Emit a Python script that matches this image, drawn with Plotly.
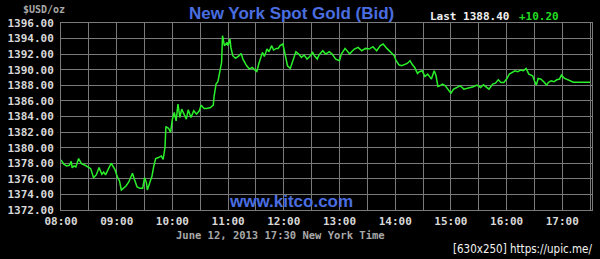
import plotly.graph_objects as go

times = [
    "08:00", "08:03", "08:06", "08:09", "08:11", "08:12", "08:14", "08:16", "08:19", "08:22",
    "08:26", "08:32", "08:35", "08:38", "08:41", "08:44", "08:46", "08:48", "08:54", "08:58",
    "09:01", "09:03", "09:05", "09:08", "09:10", "09:13", "09:17", "09:19", "09:22", "09:25",
    "09:28", "09:30", "09:32", "09:33", "09:36", "09:38", "09:40", "09:42", "09:45", "09:48",
    "09:50", "09:52", "09:53", "09:56", "09:58", "10:00", "10:02", "10:04", "10:06", "10:08",
    "10:10", "10:13", "10:15", "10:17", "10:20", "10:23", "10:26", "10:29", "10:31", "10:34",
    "10:37", "10:41", "10:44", "10:45", "10:47", "10:49", "10:51", "10:53", "10:54", "10:56",
    "10:59", "11:00", "11:02", "11:03", "11:05", "11:08", "11:12", "11:14", "11:16", "11:20",
    "11:23", "11:26", "11:29", "11:31", "11:33", "11:35", "11:37", "11:39", "11:42", "11:44",
    "11:47", "11:49", "11:52", "11:54", "11:56", "11:59", "12:01", "12:04", "12:07", "12:10",
    "12:13", "12:16", "12:19", "12:22", "12:25", "12:28", "12:31", "12:33", "12:36", "12:38",
    "12:42", "12:45", "12:49", "12:52", "12:56", "13:00", "13:02", "13:06", "13:09", "13:11",
    "13:13", "13:16", "13:20", "13:24", "13:28", "13:32", "13:36", "13:40", "13:44", "13:47",
    "13:51", "13:55", "13:59", "14:01", "14:04", "14:07", "14:10", "14:13", "14:16", "14:18",
    "14:21", "14:24", "14:26", "14:29", "14:32", "14:35", "14:39", "14:42", "14:44", "14:46",
    "14:48", "14:51", "14:54", "14:57", "15:00", "15:03", "15:06", "15:10", "15:14", "15:17",
    "15:20", "15:24", "15:28", "15:32", "15:35", "15:39", "15:41", "15:45", "15:48", "15:51",
    "15:54", "15:57", "16:00", "16:03", "16:06", "16:09", "16:12", "16:15", "16:18", "16:21",
    "16:24", "16:28", "16:30", "16:32", "16:34", "16:37", "16:40", "16:43", "16:45", "16:48",
    "16:51", "16:54", "16:57", "16:59", "17:02", "17:05", "17:08", "17:12", "17:30",
]

prices = [
    1378.43, 1377.87, 1377.65, 1377.74, 1378.25, 1377.44, 1377.65, 1377.53, 1378.60, 1377.95,
    1377.74, 1377.31, 1376.15, 1376.50, 1377.44, 1376.58, 1376.88, 1376.50, 1378.00, 1377.23,
    1376.15, 1375.73, 1374.57, 1374.87, 1375.08, 1375.60, 1376.71, 1375.94, 1374.95, 1374.78,
    1374.78, 1376.15, 1375.51, 1374.57, 1375.73, 1376.37, 1377.65, 1378.60, 1378.73, 1378.94,
    1378.51, 1380.01, 1382.71, 1382.46, 1381.94, 1383.66, 1384.51, 1383.44, 1385.58, 1383.87,
    1384.94, 1384.08, 1383.66, 1384.86, 1383.87, 1384.73, 1384.30, 1384.73, 1385.46, 1385.03,
    1385.03, 1385.16, 1385.46, 1386.66, 1388.16, 1388.46, 1389.87, 1390.94, 1394.37, 1393.09,
    1393.51, 1393.09, 1393.94, 1392.87, 1391.80, 1391.46, 1391.80, 1392.10, 1391.37, 1390.51,
    1390.09, 1390.30, 1389.96, 1389.78, 1390.73, 1391.59, 1392.23, 1391.71, 1392.66, 1392.31,
    1393.09, 1392.53, 1392.74, 1392.74, 1393.09, 1393.30, 1392.01, 1390.51, 1390.17, 1391.37,
    1392.31, 1392.01, 1391.59, 1391.89, 1391.37, 1391.71, 1392.23, 1391.80, 1391.37, 1391.89,
    1392.44, 1392.01, 1392.31, 1392.01, 1391.37, 1391.16, 1392.01, 1392.74, 1392.31, 1392.01,
    1392.31, 1392.66, 1392.87, 1392.44, 1392.74, 1392.66, 1392.96, 1392.44, 1393.09, 1393.30,
    1392.74, 1392.23, 1391.80, 1391.16, 1390.64, 1390.51, 1390.64, 1390.81, 1391.16, 1390.73,
    1390.30, 1389.53, 1389.74, 1389.87, 1389.14, 1389.44, 1388.80, 1389.87, 1389.23, 1387.86,
    1387.94, 1388.16, 1387.94, 1387.43, 1387.00, 1387.51, 1387.73, 1387.94, 1387.51, 1387.60,
    1387.73, 1387.81, 1388.03, 1387.73, 1388.07, 1387.73, 1387.51, 1388.16, 1388.28, 1388.71,
    1388.37, 1388.37, 1388.80, 1389.44, 1389.66, 1389.87, 1389.74, 1389.96, 1389.87, 1390.17,
    1389.44, 1389.23, 1388.58, 1388.03, 1388.88, 1388.80, 1388.46, 1388.03, 1388.37, 1388.58,
    1388.46, 1388.71, 1388.80, 1389.31, 1388.93, 1388.80, 1388.58, 1388.40, 1388.40,
]

y_ticks = [1372, 1374, 1376, 1378, 1380, 1382, 1384, 1386, 1388, 1390, 1392, 1394, 1396]
y_tick_labels = [f"{v:.2f}" for v in y_ticks]

title_text = "New York Spot Gold (Bid)"
last_text = "Last 1388.40"
change_text = "+10.20"
unit_text = "$USD/oz"
date_text = "June 12, 2013 17:30 New York Time"
site_text = "www.kitco.com"
credit_text = "[630x250] https://upic.me/"

DAY = "2013-06-12 "
xs = [DAY + t for t in times]

W, H = 600, 259
L, R, T, B = 58, 7, 23, 49
pw, ph = W - L - R, H - T - B


def px(x):
    return (x - L) / pw


def py(y):
    return (H - B - y) / ph


grid = "#7a7a7a"
mono = "DejaVu Sans Mono"

fig = go.Figure()
fig.add_trace(go.Scatter(
    x=xs, y=prices, mode="lines",
    line=dict(color="#2af02a", width=1.5),
    hoverinfo="skip", showlegend=False,
))

fig.update_layout(
    width=W, height=H,
    margin=dict(l=L, r=R, t=T, b=B),
    paper_bgcolor="black", plot_bgcolor="black",
    xaxis=dict(
        type="date",
        range=[DAY + "08:00", DAY + "17:32"],
        dtick=3600000, tick0=DAY + "08:00", tickformat="%H:%M",
        showgrid=True, gridcolor=grid, gridwidth=1,
        minor=dict(dtick=1800000, showgrid=True, gridcolor=grid, gridwidth=1),
        showline=True, linecolor=grid, mirror=True,
        ticks="", ticklabelstandoff=1,
        tickfont=dict(family=mono, size=11, color="#d8d8d8", weight="bold"),
        zeroline=False, fixedrange=True,
    ),
    yaxis=dict(
        range=[1372, 1396],
        tickvals=y_ticks, ticktext=y_tick_labels,
        showgrid=True, gridcolor=grid, gridwidth=1,
        showline=True, linecolor=grid, mirror=True,
        ticks="", ticklabelstandoff=4,
        tickfont=dict(family=mono, size=11, color="#d8d8d8", weight="bold"),
        zeroline=False, fixedrange=True,
    ),
)

ann = []
ann.append(dict(text=title_text, x=px(290), y=py(13), xanchor="center", yanchor="middle",
                font=dict(family="Liberation Sans", size=17, color="#4a6ee0", weight="bold")))
ann.append(dict(text=last_text, x=px(428), y=py(16), xanchor="left", yanchor="middle",
                font=dict(family=mono, size=11, color="#f0f0f0", weight="bold")))
ann.append(dict(text=change_text, x=px(517), y=py(16), xanchor="left", yanchor="middle",
                font=dict(family=mono, size=11, color="#22dd22", weight="bold")))
ann.append(dict(text=unit_text, x=px(18), y=py(10), xanchor="left", yanchor="middle",
                font=dict(family=mono, size=10, color="#a8a8a8", weight="bold")))
ann.append(dict(text=site_text, x=px(290), y=py(201), xanchor="center", yanchor="middle",
                font=dict(family="Liberation Sans", size=17, color="#4a6ee0", weight="bold")))
ann.append(dict(text=date_text, x=px(172), y=py(234.5), xanchor="left", yanchor="middle",
                font=dict(family=mono, size=10.5, color="#a8a8a8", weight="bold")))
ann.append(dict(text=credit_text, x=px(595), y=py(249), xanchor="right", yanchor="middle",
                font=dict(family="DejaVu Sans Condensed", size=11.5, color="#f4f4f4")))
for a in ann:
    a.update(xref="paper", yref="paper", showarrow=False)
fig.update_layout(annotations=ann)

fig.write_html("out.html")
